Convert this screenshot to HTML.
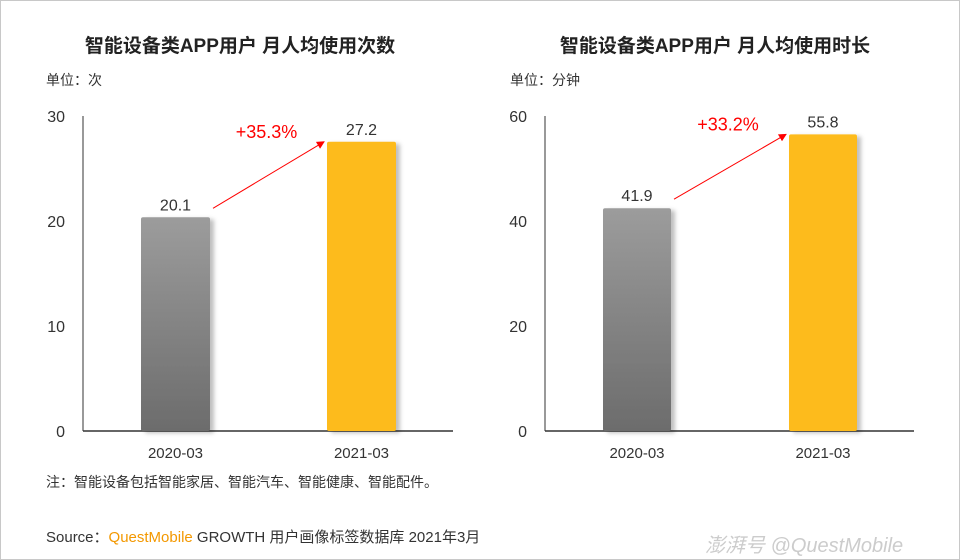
<!DOCTYPE html>
<html><head><meta charset="utf-8"><style>
body{margin:0;width:960px;height:560px;background:#fff;font-family:"Liberation Sans","Noto Sans CJK SC",sans-serif;overflow:hidden}
#frame{position:absolute;left:0;top:0;width:958px;height:558px;border:1px solid #c8c8c8}
.t{position:absolute;white-space:nowrap}
</style></head><body>
<div id="frame"></div>
<svg id="c" width="960" height="560" style="position:absolute;left:0;top:0">
<defs>
<linearGradient id="g" x1="0" y1="0" x2="0" y2="1"><stop offset="0" stop-color="#9c9c9c"/><stop offset="1" stop-color="#6c6c6c"/></linearGradient>
<filter id="sh" x="-20%" y="-10%" width="150%" height="120%"><feDropShadow dx="4" dy="2" stdDeviation="2" flood-color="#000" flood-opacity="0.25"/></filter>
<marker id="ar" markerWidth="8" markerHeight="8" refX="7" refY="4" orient="auto"><path d="M0,0 L8,4 L0,8 z" fill="#f00"/></marker>
</defs>
</svg>
<div class="t" style="left:0;width:480px;top:31px;text-align:center;font-size:19px;font-weight:bold;color:#222">智能设备类APP用户 月人均使用次数</div>
<div class="t" style="left:480px;width:470px;top:31px;text-align:center;font-size:19px;font-weight:bold;color:#222">智能设备类APP用户 月人均使用时长</div>
<div class="t" style="left:46px;top:70px;font-size:14px;color:#333">单位：次</div>
<div class="t" style="left:510px;top:70px;font-size:14px;color:#333">单位：分钟</div>
<div class="t" style="left:46px;top:472px;font-size:14px;color:#333">注：智能设备包括智能家居、智能汽车、智能健康、智能配件。</div>
<div class="t" style="left:46px;top:526px;font-size:15px;color:#333">Source：<span style="color:#f39800">QuestMobile</span> GROWTH 用户画像标签数据库 2021年3月</div>
<div class="t" style="left:705px;top:529px;font-size:20px;color:#ccc;font-style:italic">澎湃号 @QuestMobile</div>
<script>
const categories=["2020-03","2021-03"];
const leftValues=[20.1,27.2];
const leftTicks=[0,10,20,30];
const leftGrowth="+35.3%";
const rightValues=[41.9,55.8];
const rightTicks=[0,20,40,60];
const rightGrowth="+33.2%";
const svg=document.getElementById('c');
const NS="http://www.w3.org/2000/svg";
function mk(tag,a,txt){const e=document.createElementNS(NS,tag);for(const k in a)e.setAttribute(k,a[k]);if(txt!=null)e.textContent=txt;svg.appendChild(e);return e;}
function chart(p,vals,ticks,growth,ax,x1,bx,bw){
  const y0=431,yTop=112,max=ticks[ticks.length-1];
  const y=v=>y0-(v/max)*(y0-yTop);
  const yt=v=>y0-(v/max)*(y0-116);
  let e=mk('line',{x1:ax,y1:116,x2:ax,y2:y0,stroke:'#333','stroke-width':1});
  
  
  e=mk('line',{x1:ax,y1:y0,x2:x1,y2:y0,stroke:'#333','stroke-width':1.5});
  
  
  ticks.forEach(t=>{const l=mk('text',{x:ax-18,y:yt(t)+6,'text-anchor':'end','font-size':16,fill:'#333','font-family':'Liberation Sans'},String(t));
    
    });
  const tops=[];
  vals.forEach((v,i)=>{
    const yy=y(v);
    const r=mk('rect',{x:bx[i],y:yy,width:bw,height:y0-yy,rx:2,fill:i==0?'url(#g)':'#fdbb1f',filter:'url(#sh)'});
    
    
    const l=mk('text',{x:bx[i]+bw/2,y:yy-7,'text-anchor':'middle','font-size':16,fill:'#333','font-family':'Liberation Sans'},v.toFixed(1));
    
    
    const c=mk('text',{x:bx[i]+bw/2,y:458,'text-anchor':'middle','font-size':15,fill:'#333','font-family':'Liberation Sans'},categories[i]);
    
    
    tops.push(yy);
  });
  const a=mk('line',{x1:bx[0]+bw+3,y1:tops[0]-9,x2:bx[1]-3,y2:tops[1],stroke:'#f00','stroke-width':1,'marker-end':'url(#ar)'});
  
  
  const g=mk('text',{x:(bx[0]+bw+bx[1])/2-2,y:tops[1]-4,'text-anchor':'middle','font-size':18,fill:'#f00','font-family':'Liberation Sans'},growth);
  
  
}
chart('left',leftValues,leftTicks,leftGrowth,83,453,[141,327],69);
chart('right',rightValues,rightTicks,rightGrowth,545,914,[603,789],68);
</script>
</body></html>
